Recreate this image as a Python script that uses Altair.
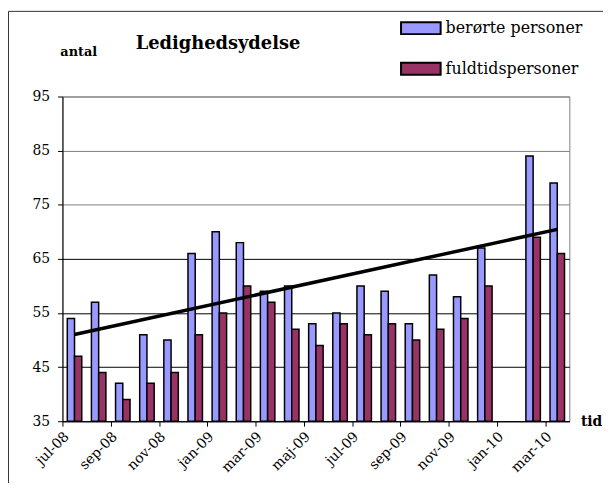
import altair as alt
import pandas as pd

# ---- data ----
months = ["jul-08", "aug-08", "sep-08", "okt-08", "nov-08", "dec-08",
          "jan-09", "feb-09", "mar-09", "apr-09", "maj-09", "jun-09",
          "jul-09", "aug-09", "sep-09", "okt-09", "nov-09", "dec-09",
          "jan-10", "feb-10", "mar-10"]
beroerte = [54, 57, 42, 51, 50, 66, 70, 68, 59, 60, 53, 55, 60, 59, 53, 62, 58, 67, None, 84, 79]
fuldtid = [47, 44, 39, 42, 44, 51, 55, 60, 57, 52, 49, 53, 51, 53, 50, 52, 54, 60, None, 69, 66]
tick_labels = ["jul-08", "sep-08", "nov-08", "jan-09", "mar-09", "maj-09",
               "jul-09", "sep-09", "nov-09", "jan-10", "mar-10"]
y_ticks = [35, 45, 55, 65, 75, 85, 95]
series = ["berørte personer", "fuldtidspersoner"]
colors = ["#9999FF", "#993366"]

# ---- table built from the arrays ----
idx = list(range(1, len(months) + 1))
wide = pd.DataFrame({"idx": idx, "month": months, series[0]: beroerte, series[1]: fuldtid})
long = wide.melt(id_vars=["idx", "month"], value_vars=series,
                 var_name="serie", value_name="antal").dropna()

BAR_W = 0.3
SERIF = "DejaVu Serif"

x_scale = alt.Scale(domain=[0.5, len(months) + 0.5], nice=False, zero=False)
y_scale = alt.Scale(domain=[35, 95], nice=False, zero=False)

label_array = "[" + ",".join('"%s"' % t for t in tick_labels) + "]"
x_axis = alt.Axis(
    values=[0.5 + 2 * i for i in range(len(tick_labels))],
    labelExpr=label_array + "[round((datum.value - 0.5) / 2)]",
    labelAngle=-45, labelAlign="right", labelBaseline="middle",
    labelFont=SERIF, labelFontSize=14, labelColor="black", labelPadding=8,
    labelOffset=4,
    tickSize=5, tickColor="black", domainColor="black", grid=False,
    title="tid", titleFont=SERIF, titleFontSize=14, titleFontWeight="bold",
    titleColor="black", titleX=534, titleY=0, titleAlign="center",
    titleBaseline="middle", titleAngle=0,
)
y_axis = alt.Axis(
    values=y_ticks, labelFont=SERIF, labelFontSize=14, labelColor="black",
    labelPadding=8, tickSize=5, tickColor="black", domainColor="black",
    gridColor={"condition": {"test": "datum.value >= 75", "value": "#808080"},
               "value": "#000000"},
    gridOpacity=1,
    title="antal", titleFont=SERIF, titleFontSize=13, titleFontWeight="bold",
    titleColor="black", titleAngle=0, titleX=16, titleY=-45,
    titleAlign="center", titleBaseline="middle",
)

bars = alt.Chart(long).transform_calculate(
    x0="datum.idx + (datum.serie == '%s' ? -%s : 0)" % (series[0], BAR_W),
    x1="datum.idx + (datum.serie == '%s' ? 0 : %s)" % (series[0], BAR_W),
).mark_bar(stroke="black", strokeWidth=1.5).encode(
    x=alt.X("x0:Q", scale=x_scale, axis=x_axis),
    x2="x1:Q",
    y=alt.Y("antal:Q", scale=y_scale, axis=y_axis),
    y2=alt.datum(35),
    color=alt.Color(
        "serie:N",
        scale=alt.Scale(domain=series, range=colors),
        legend=alt.Legend(
            title=None, orient="none", legendX=341, legendY=-90,
            symbolType="M-1,-0.3L1,-0.3L1,0.3L-1,0.3Z", symbolSize=1600,
            symbolStrokeColor="black", symbolStrokeWidth=2, symbolOpacity=1,
            labelFont=SERIF, labelFontSize=16, labelColor="black",
            labelOffset=4, rowPadding=10, padding=0,
        ),
    ),
)

trend = alt.Chart(long).transform_filter(
    alt.datum.serie == series[0]
).transform_regression("idx", "antal").mark_line(
    color="black", strokeWidth=3.5
).encode(
    x=alt.X("idx:Q", scale=x_scale, axis=x_axis),
    y=alt.Y("antal:Q", scale=y_scale, axis=y_axis),
)

frame_src = pd.DataFrame({"k": [0]})
frame_top = alt.Chart(frame_src).mark_rule(color="#333333", strokeWidth=1).encode(
    x=alt.value(-54.5), x2=alt.value(570), y=alt.value(-86)
)
frame_left = alt.Chart(frame_src).mark_rule(color="#333333", strokeWidth=1).encode(
    x=alt.value(-54.5), y=alt.value(-86), y2=alt.value(420)
)

chart = alt.layer(bars, trend, frame_top, frame_left).properties(
    width=512, height=328,
    autosize=alt.AutoSizeParams(type="none"),
    padding={"left": 55, "top": 87, "right": 34, "bottom": 60},
    background="white",
    title=alt.TitleParams(
        "Ledighedsydelse", font=SERIF, fontSize=18, fontWeight="bold",
        color="black", anchor="start", frame="group", dx=74, dy=50,
    ),
).configure_view(stroke="#808080", strokeWidth=1)

chart.save("out.html", embed_options={"renderer": "svg", "actions": False})
